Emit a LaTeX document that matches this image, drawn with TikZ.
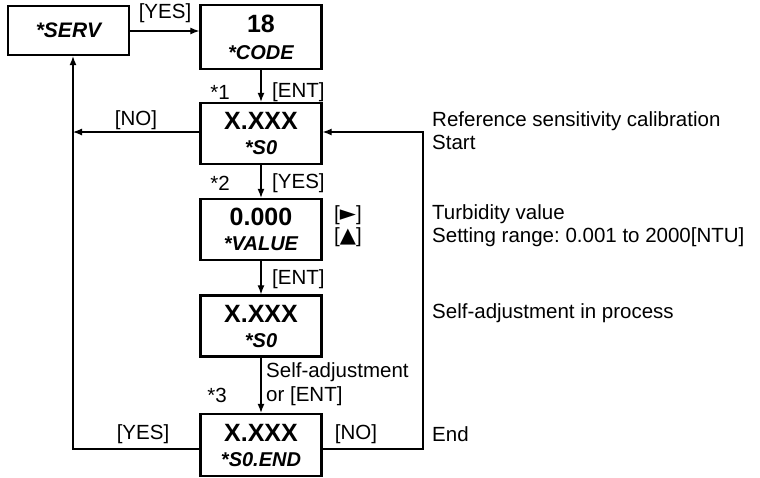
\documentclass[tikz,border=0pt]{standalone}
\usepackage{fontspec}
\setmainfont{Liberation Sans}
\newfontfamily\symfont{DejaVu Sans}
\usetikzlibrary{arrows.meta}
\frenchspacing
\begin{document}
\begin{tikzpicture}[x=1pt,y=-1pt,
  dbox/.style={draw,line width=2.4pt,minimum width=121pt,inner sep=0pt,align=center,font=\fontsize{20}{25}\selectfont},
  conn/.style={line width=1.2pt,-{Latex[length=9pt,width=7pt]}},
  lbl/.style={inner sep=0pt,font=\fontsize{20.5}{24}\selectfont},
  note/.style={inner sep=0pt,anchor=west,align=left,font=\fontsize{20.5}{23.5}\selectfont}]
\useasboundingbox (0,0) rectangle (760,477);
\newcommand{\bx}[2]{{\fontsize{25}{25}\selectfont\bfseries #1}\\{\fontsize{20}{25}\selectfont\bfseries\itshape #2}}
\node[dbox,minimum height=49pt,font=\fontsize{21}{21}\selectfont\bfseries\itshape] (serv) at (68.5,30.5) {*SERV};
\node[dbox,minimum height=64pt,font=\fontsize{20}{27}\selectfont] (code) at (261,37) {{\fontsize{25}{27}\selectfont\bfseries 18}\\{\fontsize{20}{27}\selectfont\bfseries\itshape *CODE}};
\node[dbox,minimum height=61pt] (s0a) at (261,133.5) {\bx{X.XXX}{*S0}};
\node[dbox,minimum height=61pt] (val) at (261,229.5) {\bx{0.000}{*VALUE}};
\node[dbox,minimum height=61pt] (s0b) at (261,326) {\bx{X.XXX}{*S0}};
\node[dbox,minimum height=62pt] (s0e) at (261,445) {\bx{X.XXX}{*S0.END}};

\coordinate (lx) at (73,449);
\coordinate (rx) at (423,449);
\coordinate (ly) at (73,132);
\coordinate (ry) at (423,132);

\draw[conn] (serv.east |- 0,31) -- (code.west |- 0,31);
\draw[conn] (code.south) -- (s0a.north);
\draw[conn] (s0a.west |- ly) -- (ly);
\draw[conn] (s0a.south) -- (val.north);
\draw[conn] (val.south) -- (s0b.north);
\draw[conn] (s0b.south) -- (s0e.north);
\draw[conn] (s0e.west |- lx) -- (lx) -- (serv.south -| lx);
\draw[conn] (s0e.east |- rx) -- (rx) -- (ry) -- (s0a.east |- ry);

\node[lbl] (l1) at (165,13) {[YES]};
\node[lbl,anchor=east] (l2) at (230,92) {*1};
\node[lbl,anchor=west] (l3) at (272,92) {[ENT]};
\node[lbl] (l4) at (136,120) {[NO]};
\node[lbl,anchor=east] (l5) at (230,183) {*2};
\node[lbl,anchor=west] (l6) at (272,183) {[YES]};
\node[lbl,anchor=west] (l7) at (334,215) {[{\symfont\fontsize{21}{21}\selectfont ►}]};
\node[lbl,anchor=west] (l8) at (334,237) {[{\symfont\fontsize{21}{21}\selectfont ▲}]};
\node[lbl,anchor=west] (l9) at (272,279) {[ENT]};
\node[lbl,anchor=west,align=left] (l10) at (266,384) {Self-adjustment\\or [ENT]};
\node[lbl,anchor=east] (l11) at (227,395) {*3};
\node[lbl] (l12) at (143,434) {[YES]};
\node[lbl] (l13) at (356,434) {[NO]};

\node[note] (n1) at (432,130.5) {Reference sensitivity calibration\\Start};
\node[note] (n2) at (432,225.5) {Turbidity value\\Setting range: 0.001 to 2000[NTU]};
\node[note] (n3) at (432,313) {Self-adjustment in process};
\node[note] (n4) at (432,434) {End};
\end{tikzpicture}
\end{document}
